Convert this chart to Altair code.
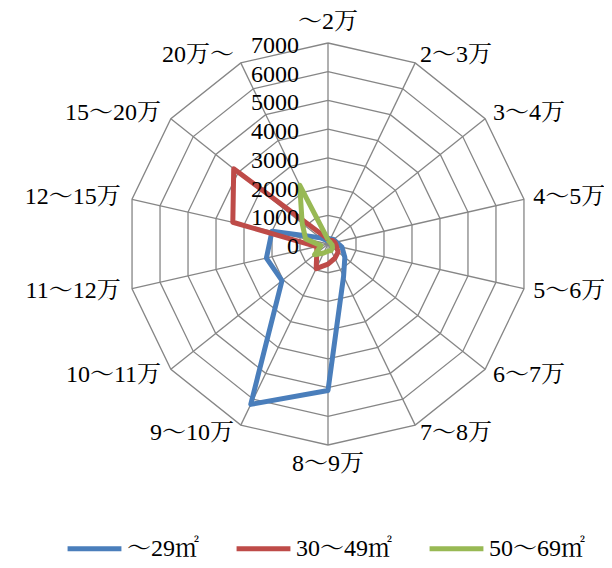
import altair as alt
import pandas as pd

categories = ["〜2万", "2〜3万", "3〜4万", "4〜5万", "5〜6万", "6〜7万", "7〜8万",
              "8〜9万", "9〜10万", "10〜11万", "11〜12万", "12〜15万", "15〜20万", "20万〜"]
series_names = ["〜29㎡", "30〜49㎡", "50〜69㎡"]
s_29 = [200, 200, 250, 300, 500, 750, 1250, 5100, 6200, 2050, 2200, 2000, 350, 150]
s_30_49 = [150, 150, 200, 250, 300, 450, 550, 700, 950, 500, 400, 3400, 4200, 300]
s_50_69 = [150, 100, 100, 100, 150, 200, 250, 250, 350, 600, 250, 800, 1150, 2270]
levels = [0, 1000, 2000, 3000, 4000, 5000, 6000, 7000]
colors = ["#4A7EBB", "#BE4B48", "#98B954"]

N = len(categories)
FONT = "Liberation Serif, Noto Serif CJK JP, Noto Sans CJK JP"
FS = 24

# series table (closed polygons)
rows = []
for name, vals in zip(series_names, [s_29, s_30_49, s_50_69]):
    for k in range(N + 1):
        rows.append({"series": name, "k": k, "value": vals[k % N]})
series_df = pd.DataFrame(rows)

# grid rings
ring_rows = []
for lv in levels[1:]:
    for k in range(N + 1):
        ring_rows.append({"level": lv, "k": k})
ring_df = pd.DataFrame(ring_rows)

cat_df = pd.DataFrame({"k": list(range(N)), "cat": categories})
lvl_df = pd.DataFrame({"level": levels, "label": [str(v) for v in levels]})

sc = alt.Scale(domain=[-7000, 7000], nice=False, zero=False)
def X(f):
    return alt.X(f, type="quantitative", scale=sc, axis=None)
def Y(f):
    return alt.Y(f, type="quantitative", scale=sc, axis=None)

TH = "datum.k * 2 * PI / %d" % N

rings = alt.Chart(ring_df).transform_calculate(
    px="datum.level * sin(%s)" % TH, py="datum.level * cos(%s)" % TH
).mark_line(color="#868686", strokeWidth=1.3).encode(
    x=X("px"), y=Y("py"), detail="level:N", order="k:Q")

spokes = alt.Chart(cat_df).transform_calculate(
    x0="0", y0="0",
    px="7000 * sin(%s)" % TH, py="7000 * cos(%s)" % TH
).mark_rule(color="#868686", strokeWidth=1.3).encode(
    x=X("x0"), y=Y("y0"), x2="px:Q", y2="py:Q")

lines = alt.Chart(series_df).transform_calculate(
    px="datum.value * sin(%s)" % TH, py="datum.value * cos(%s)" % TH
).mark_line(strokeWidth=5, strokeJoin="round").encode(
    x=X("px"), y=Y("py"),
    color=alt.Color("series:N", scale=alt.Scale(domain=series_names, range=colors),
                    sort=series_names,
                    legend=alt.Legend(orient="none", legendX=-62, legendY=476,
                                      direction="horizontal", title=None,
                                      symbolType="stroke", symbolStrokeWidth=5,
                                      symbolSize=2900, labelFontSize=FS,
                                      labelFont=FONT, labelColor="black",
                                      labelOffset=3, columnPadding=27)),
    detail="series:N", order="k:Q")

base_lab = alt.Chart(cat_df).transform_calculate(
    px="7300 * sin(%s)" % TH, py="7300 * cos(%s)" % TH)

lab_top = base_lab.transform_filter("datum.k == 0").mark_text(
    align="center", baseline="middle", dy=-12, font=FONT, fontSize=FS, color="black"
).encode(x=X("px"), y=Y("py"), text="cat:N")
lab_bot = base_lab.transform_filter("datum.k == %d" % (N // 2)).mark_text(
    align="center", baseline="middle", dy=10, font=FONT, fontSize=FS, color="black"
).encode(x=X("px"), y=Y("py"), text="cat:N")
lab_right = base_lab.transform_filter("datum.k > 0 && datum.k < %d" % (N // 2)).mark_text(
    align="left", baseline="middle", dx=1, font=FONT, fontSize=FS, color="black"
).encode(x=X("px"), y=Y("py"), text="cat:N")
lab_left = base_lab.transform_filter("datum.k > %d" % (N // 2)).mark_text(
    align="right", baseline="middle", dx=-3, font=FONT, fontSize=FS, color="black"
).encode(x=X("px"), y=Y("py"), text="cat:N")

val_labels = alt.Chart(lvl_df).transform_calculate(x0="0").mark_text(
    align="right", baseline="middle", dx=-29, dy=3, font=FONT, fontSize=FS, color="black"
).encode(x=X("x0"), y=Y("level"), text="label:N")

chart = alt.layer(
    rings, spokes, lines, val_labels, lab_top, lab_bot, lab_right, lab_left
).properties(
    width=402, height=402, autosize="none",
    padding={"left": 119, "top": 35, "right": 75, "bottom": 117},
    background="white"
).configure_view(stroke=None)

chart.save("out.html", embed_options={"renderer": "svg", "actions": False})
